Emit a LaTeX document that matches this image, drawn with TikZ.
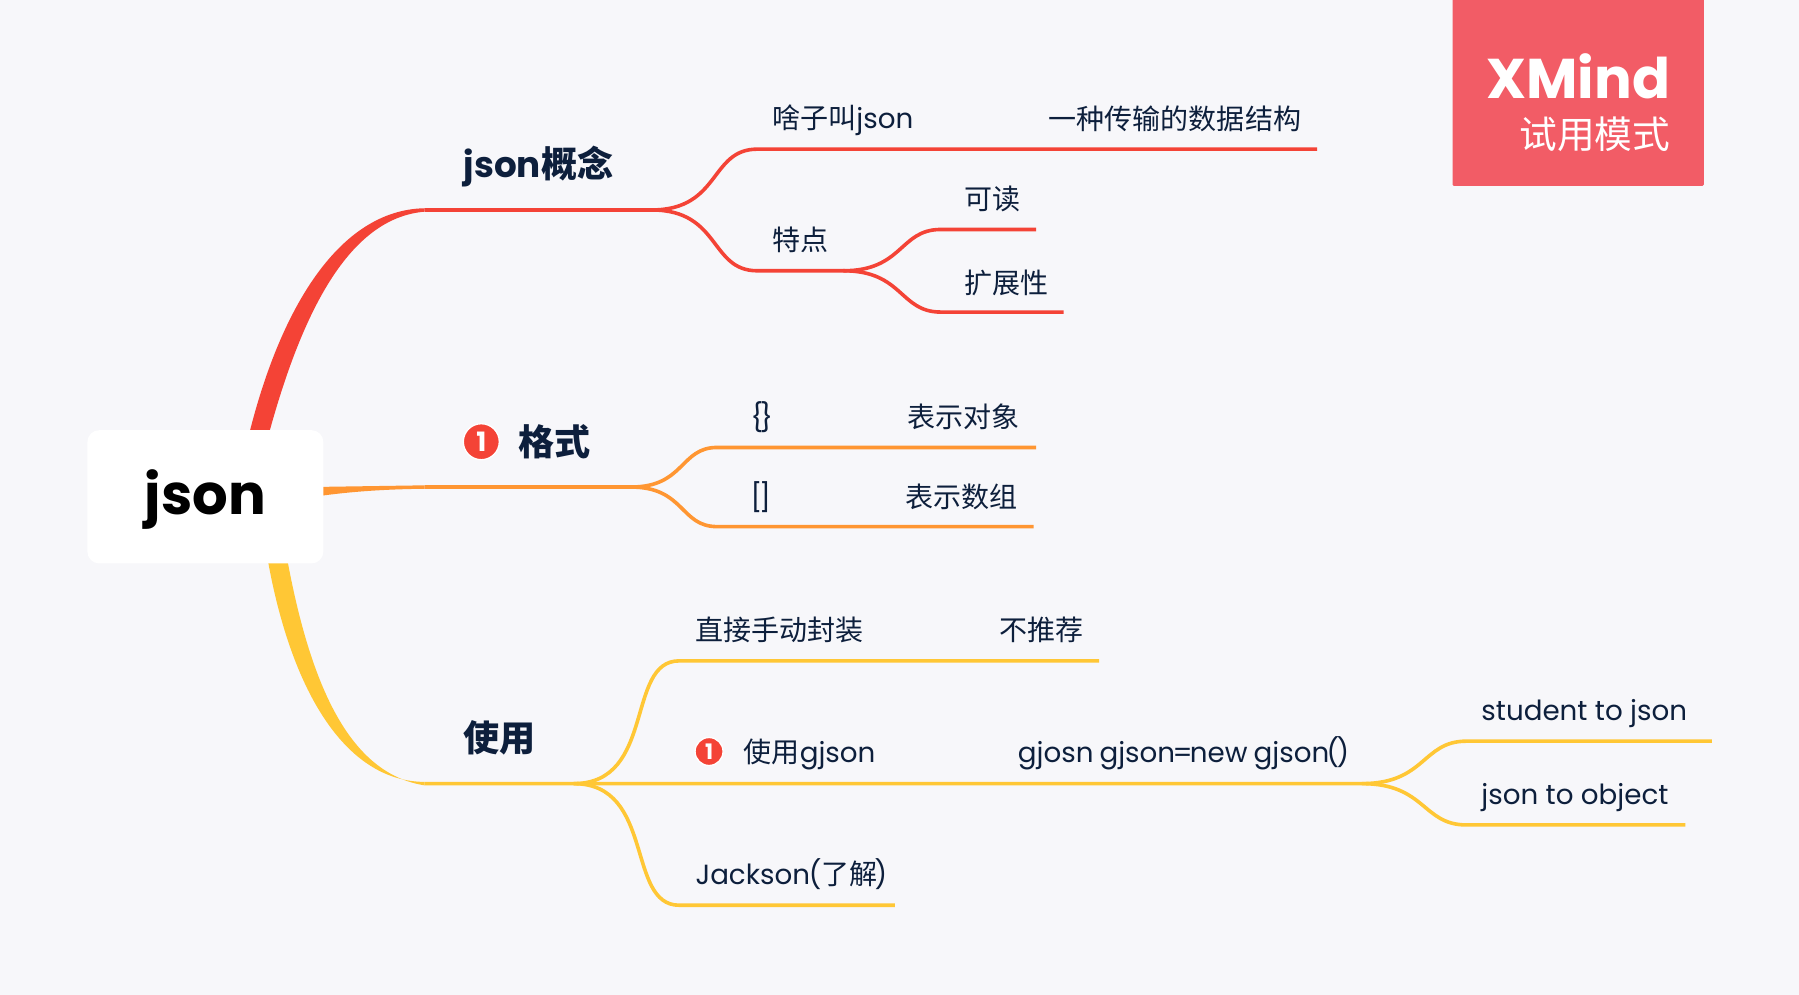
\documentclass[tikz,border=0pt]{standalone}
\usepackage{fontspec}
\setmainfont{Poppins}
\newfontfamily\cjk[Scale=1.01]{Noto Sans CJK SC}
\definecolor{bgcol}{HTML}{F7F7FA}
\definecolor{inkcol}{HTML}{0D1F3C}
\definecolor{redcol}{HTML}{F44336}
\definecolor{orangecol}{HTML}{FF9632}
\definecolor{yellowcol}{HTML}{FFC735}
\definecolor{markcol}{HTML}{F25C66}
\tikzset{
    leaf/.style={anchor=base west,inner sep=0pt,text=inkcol,font=\fontsize{20.8}{24}\selectfont},
    topic/.style={anchor=base west,inner sep=0pt,text=inkcol,font=\fontsize{26.8}{32}\selectfont\bfseries},
    redline/.style={draw=redcol,line width=2.7pt},
    orangeline/.style={draw=orangecol,line width=2.7pt},
    yellowline/.style={draw=yellowcol,line width=2.7pt},
    swing/.style={out=0,in=180,out looseness=1.45,in looseness=1.0},
    wideswing/.style={out=0,in=180,out looseness=1.3,in looseness=0.85},
    badge/.style={circle,fill=redcol,draw=white,line width=1pt,inner sep=0pt,text=white,font=\bfseries},
}
\begin{document}
\begin{tikzpicture}[x=0.8605pt,y=-0.8605pt]
    \useasboundingbox (0,0) rectangle (1568,867.2);
    \fill[bgcol] (0,0) rectangle (1568,867.2);
    % trial mark
    \fill[markcol,rounded corners=1pt] (1266,-5) rectangle (1485,162);
    \node[anchor=base east,inner sep=0pt,text=white,font=\fontsize{42}{50}\selectfont\bfseries] (xmindmark) at (1456,85.5) {XMind};
    \node[anchor=base east,inner sep=0pt,text=white,font=\fontsize{28}{32}\selectfont\cjk] (trialmark) at (1456,129) {试用模式};
    % thick roots
    \fill[redcol] (215.5,385) .. controls (243,270) and (295,183) .. (370,181.5) -- (370,184.5) .. controls (305,190) and (263,270) .. (232.5,385) -- cycle;
    \fill[orangecol] (270,424.5) -- (370,423) -- (370,426) .. controls (330,426.5) and (300,429) .. (270,433.5) -- cycle;
    \fill[yellowcol] (232,480) .. controls (252,600) and (300,681) .. (370,681.5) -- (370,684.5) .. controls (310,675) and (272,610) .. (249,480) -- cycle;
    \node[fill=white,rounded corners=9pt,minimum width=177pt,minimum height=100pt,inner sep=0pt] (root) at (179,433) {};
    \node[inner sep=0pt,font=\fontsize{42}{48}\selectfont\bfseries] (rootlabel) at (179,435) {json};
    % red part
    \coordinate (redstart) at (370,183);
    \coordinate (redfork) at (568,183);
    \coordinate (whatstart) at (660,130);
    \coordinate (whatend) at (1148,130);
    \coordinate (traitstart) at (660,236);
    \coordinate (traitfork) at (735,236);
    \coordinate (readstart) at (820,200);
    \coordinate (readend) at (903,200);
    \coordinate (extstart) at (820,272);
    \coordinate (extend) at (927,272);
    \draw[redline] (redstart) -- (redfork) to[swing] (whatstart) -- (whatend);
    \draw[redline] (redfork) to[swing] (traitstart) -- (traitfork) to[swing] (readstart) -- (readend);
    \draw[redline] (traitfork) to[swing] (extstart) -- (extend);
    \node[topic] (concept) at (404,155) {json{\cjk 概念}};
    \node[leaf] (what) at (673,112) {{\cjk 啥子叫}json};
    \node[leaf] (whatnote) at (914,112.5) {\cjk 一种传输的数据结构};
    \node[leaf] (trait) at (673,218.5) {\cjk 特点};
    \node[leaf] (read) at (840,182.5) {\cjk 可读};
    \node[leaf] (ext) at (840,255.5) {\cjk 扩展性};
    % orange part
    \coordinate (orangestart) at (370,424.5);
    \coordinate (orangefork) at (550,424.5);
    \coordinate (objstart) at (625,390);
    \coordinate (objend) at (903,390);
    \coordinate (arrstart) at (625,459);
    \coordinate (arrend) at (901,459);
    \draw[orangeline] (orangestart) -- (orangefork) to[swing] (objstart) -- (objend);
    \draw[orangeline] (orangefork) to[swing] (arrstart) -- (arrend);
    \node[badge,minimum size=27pt] (formatbadge) at (419.5,385) {\fontsize{20}{20}\selectfont 1};
    \node[topic] (format) at (452,397) {\cjk 格式};
    \node[leaf] (obj) at (654,373) {\{\kern-2.5pt\}};
    \node[leaf] (objnote) at (791,372.5) {\cjk 表示对象};
    \node[leaf] (arr) at (654,442) {[\kern-2.5pt]};
    \node[leaf] (arrnote) at (789,442.5) {\cjk 表示数组};
    % yellow part
    \coordinate (yellowstart) at (370,683);
    \coordinate (yellowfork) at (500,683);
    \coordinate (handstart) at (592,576);
    \coordinate (handend) at (958,576);
    \coordinate (gsonfork) at (1187,683);
    \coordinate (stustart) at (1278,646);
    \coordinate (stuend) at (1492,646);
    \coordinate (objsstart) at (1278,719);
    \coordinate (objsend) at (1469,719);
    \coordinate (jackstart) at (592,789);
    \coordinate (jackend) at (780,789);
    \draw[yellowline] (yellowstart) -- (gsonfork) to[swing] (stustart) -- (stuend);
    \draw[yellowline] (gsonfork) to[swing] (objsstart) -- (objsend);
    \draw[yellowline] (yellowfork) to[wideswing] (handstart) -- (handend);
    \draw[yellowline] (yellowfork) to[wideswing] (jackstart) -- (jackend);
    \node[topic] (use) at (404,655) {\cjk 使用};
    \node[leaf] (hand) at (606,558.5) {\cjk 直接手动封装};
    \node[leaf] (handnote) at (871,558.5) {\cjk 不推荐};
    \node[badge,minimum size=21pt] (gsonbadge) at (618,655) {\fontsize{16}{16}\selectfont 1};
    \node[leaf] (gson) at (648,665) {{\cjk 使用}gjson};
    \node[leaf] (gsonnote) at (887,665) {gjosn\kern-1pt{} gjson\kern-2pt=\kern-2pt new\kern-1pt{} gjson\kern-2pt(\kern-2pt)};
    \node[leaf] (stu) at (1291,628) {student to json};
    \node[leaf] (objs) at (1291,701) {json to object};
    \node[leaf] (jack) at (606,771) {Jackson\kern-1pt({\cjk 了解}\kern-2pt)};
\end{tikzpicture}
\end{document}
